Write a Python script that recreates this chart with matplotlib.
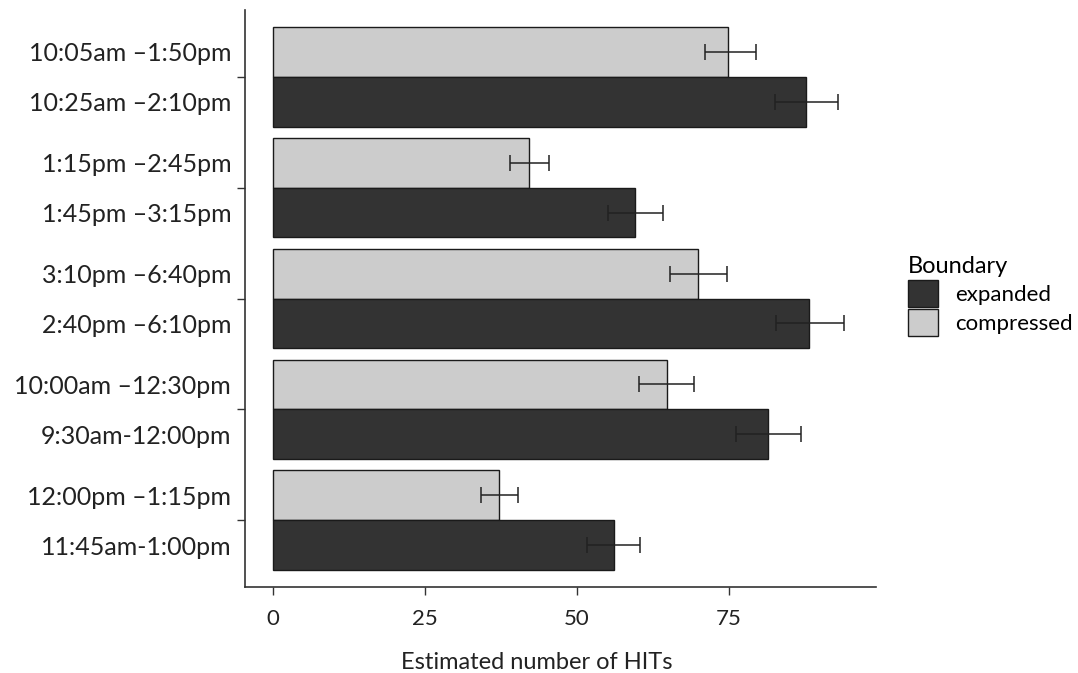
import numpy as np
import matplotlib.pyplot as plt
from matplotlib.patches import Patch

# groups listed top to bottom
compressed_labels = ["10:05am \u20131:50pm", "1:15pm \u20132:45pm", "3:10pm \u20136:40pm",
                     "10:00am \u201312:30pm", "12:00pm \u20131:15pm"]
expanded_labels = ["10:25am \u20132:10pm", "1:45pm \u20133:15pm", "2:40pm \u20136:10pm",
                   "9:30am-12:00pm", "11:45am-1:00pm"]

compressed = [74.8, 42.1, 69.9, 64.8, 37.2]
compressed_lo = [71.0, 39.0, 65.3, 60.2, 34.2]
compressed_hi = [79.4, 45.4, 74.7, 69.2, 40.3]

expanded = [87.7, 59.5, 88.2, 81.4, 56.1]
expanded_lo = [82.6, 55.1, 82.7, 76.2, 51.6]
expanded_hi = [92.9, 64.1, 93.9, 86.8, 60.4]

x_ticks = [0, 25, 50, 75]

plt.rcParams['font.family'] = ['Lato', 'DejaVu Sans']

fig = plt.figure(figsize=(10.78, 6.73), dpi=100)
ax = fig.add_axes([0.2273, 0.1278, 0.5853, 0.8573])

n = len(compressed)
pos = np.arange(n)
h = 0.45
y_c = pos - h / 2
y_e = pos + h / 2

dark = "#333333"
light = "#cccccc"

ax.barh(y_c, compressed, height=h, color=light, edgecolor="#1a1a1a", linewidth=1)
ax.barh(y_e, expanded, height=h, color=dark, edgecolor="#1a1a1a", linewidth=1)

c = np.array(compressed)
e = np.array(expanded)
ax.errorbar(c, y_c, xerr=[c - np.array(compressed_lo), np.array(compressed_hi) - c],
            fmt="none", ecolor="#222222", elinewidth=1.1, capsize=6, capthick=1.1)
ax.errorbar(e, y_e, xerr=[e - np.array(expanded_lo), np.array(expanded_hi) - e],
            fmt="none", ecolor="#222222", elinewidth=1.1, capsize=6, capthick=1.1)

ax.set_xlim(-4.6, 99.2)
ax.set_ylim(n - 0.4, -0.6)

ax.set_xticks(x_ticks)
ax.set_xticklabels([str(t) for t in x_ticks], fontsize=16, color="#222222")
ax.set_yticks(pos)
ax.set_yticklabels([])
ax.set_yticks(np.concatenate([y_c, y_e]), minor=True)
ax.set_yticklabels(compressed_labels + expanded_labels, minor=True, fontsize=18, color="#222222")
ax.tick_params(axis="y", which="minor", length=0, pad=10)
ax.tick_params(axis="y", which="major", length=6, width=1, color="#333333")
ax.tick_params(axis="x", length=6, width=1, color="#333333", pad=10)

for s in ["top", "right"]:
    ax.spines[s].set_visible(False)
for s in ["left", "bottom"]:
    ax.spines[s].set_color("#333333")
    ax.spines[s].set_linewidth(1.2)

ax.set_xlabel("Estimated number of HITs", fontsize=17, color="#222222")
ax.xaxis.set_label_coords(0.463, -0.112)

handles = [Patch(facecolor=dark, edgecolor="#1a1a1a", label="expanded"),
           Patch(facecolor=light, edgecolor="#1a1a1a", label="compressed")]
leg = fig.legend(handles=handles, title="Boundary", loc="upper left",
                 bbox_to_anchor=(0.828, 0.642), frameon=False, fontsize=16,
                 title_fontsize=17, handlelength=1.35, handleheight=1.45,
                 handletextpad=0.75, labelspacing=0.12, borderpad=0.2)
leg._legend_box.align = "left"

fig.savefig("out.png", dpi=100)
